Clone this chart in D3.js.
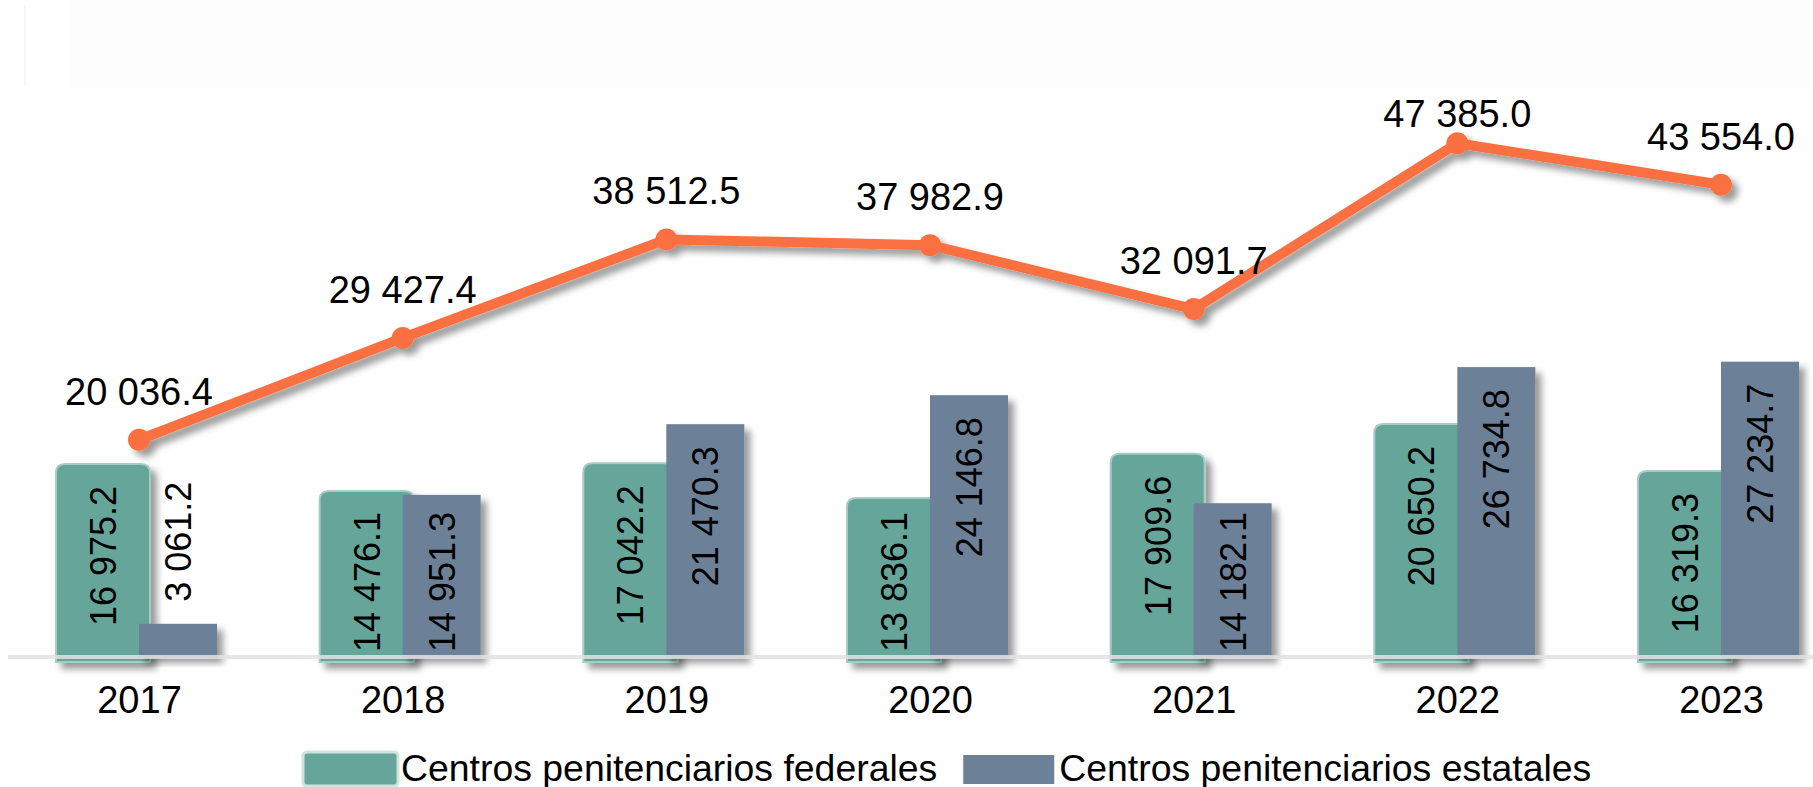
<!DOCTYPE html>
<html>
<head>
<meta charset="utf-8">
<script src="https://cdn.jsdelivr.net/npm/d3@7"></script>
<style>
  body { margin: 0; background: #fff; }
  svg { display: block; font-family: "Liberation Sans", Arial, sans-serif; }
</style>
</head>
<body>
<div id="chart"></div>
<script>
(function() {
  var width = 1813
  var height = 787

  // data
  var years = ['2017', '2018', '2019', '2020', '2021', '2022', '2023']
  var federales = [16975.2, 14476.1, 17042.2, 13836.1, 17909.6, 20650.2, 16319.3]
  var estatales = [3061.2, 14951.3, 21470.3, 24146.8, 14182.1, 26734.8, 27234.7]
  var total = [20036.4, 29427.4, 38512.5, 37982.9, 32091.7, 47385.0, 43554.0]
  var seriesNames = ['Centros penitenciarios federales', 'Centros penitenciarios estatales']

  var colorFed = '#66a69a'
  var colorEst = '#6c8197'
  var colorLine = '#fa7041'

  var baseline = 657
  var xPositionScale = d3.scalePoint().domain(years).range([139, 1721])
  var yPositionScale = d3.scaleLinear().domain([0, 50000]).range([baseline, baseline - 50000 * 0.010843])

  var fmt = function(v) {
    return d3.format(',.1f')(v).replace(/,/g, ' ')
  }

  var svg = d3.select('#chart')
    .append('svg')
    .attr('width', width)
    .attr('height', height)

  var defs = svg.append('defs')
  var shadow = defs.append('filter')
    .attr('id', 'shadow')
    .attr('x', '-20%').attr('y', '-20%')
    .attr('width', '150%').attr('height', '150%')
  shadow.append('feDropShadow')
    .attr('dx', 6).attr('dy', 6)
    .attr('stdDeviation', 3.5)
    .attr('flood-color', '#000')
    .attr('flood-opacity', 0.4)

  // faint title block at the top
  svg.append('rect')
    .attr('x', 70).attr('y', 0)
    .attr('width', width - 70).attr('height', 88)
    .attr('fill', '#fdfdfd')
  svg.append('line')
    .attr('x1', 25).attr('x2', 25).attr('y1', 5).attr('y2', 85)
    .attr('stroke', '#f6f6f6').attr('stroke-width', 2)

  var rows = years.map(function(y, i) {
    return { year: y, fed: federales[i], est: estatales[i], total: total[i] }
  })

  // federal bars (rounded top, slightly taller, drawn first)
  var fedBars = svg.append('g').attr('class', 'bars-fed')
  rows.forEach(function(d) {
    var x0 = xPositionScale(d.year) - 83
    var x1 = xPositionScale(d.year) + 11
    var top = yPositionScale(d.fed) - 9
    var bottom = baseline + 5
    var r = 9
    var path = 'M' + x0 + ',' + bottom +
      'V' + (top + r) +
      'Q' + x0 + ',' + top + ' ' + (x0 + r) + ',' + top +
      'H' + (x1 - r) +
      'Q' + x1 + ',' + top + ' ' + x1 + ',' + (top + r) +
      'V' + bottom + 'Z'
    fedBars.append('path')
      .attr('d', path)
      .attr('fill', colorFed)
      .attr('stroke', '#a6ccc4')
      .attr('stroke-width', 2)
      .attr('filter', 'url(#shadow)')
  })

  svg.append('g')
    .attr('class', 'bars-est')
    .selectAll('rect')
    .data(rows)
    .enter().append('rect')
    .attr('x', d => xPositionScale(d.year))
    .attr('y', d => yPositionScale(d.est))
    .attr('width', 78)
    .attr('height', d => baseline - yPositionScale(d.est))
    .attr('fill', colorEst)
    .attr('filter', 'url(#shadow)')

  // axis line
  svg.append('line')
    .attr('x1', 8).attr('x2', width)
    .attr('y1', baseline).attr('y2', baseline)
    .attr('stroke', '#e2e2e2')
    .attr('stroke-opacity', 0.85)
    .attr('stroke-width', 4)

  // bar labels, rotated
  function barLabel(cx, top, value) {
    var t = svg.append('text')
      .attr('text-anchor', 'end')
      .attr('dy', '0.36em')
      .attr('font-size', 36)
      .attr('fill', '#000')
      .text(fmt(value))
    var len = t.node().getComputedTextLength()
    var h = baseline - top
    var y
    if (h > len + 8) {
      y = Math.min(top + 22, baseline - 5 - len)
    } else {
      y = top - 22 - len
    }
    t.attr('transform', 'translate(' + cx + ',' + y + ') rotate(-90)')
  }
  rows.forEach(function(d) {
    barLabel(xPositionScale(d.year) - 36, yPositionScale(d.fed) - 9, d.fed)
    barLabel(xPositionScale(d.year) + 39, yPositionScale(d.est), d.est)
  })

  // total line
  var line = d3.line()
    .x(d => xPositionScale(d.year))
    .y(d => yPositionScale(d.total))

  var lineGroup = svg.append('g').attr('filter', 'url(#shadow)')
  lineGroup.append('path')
    .datum(rows)
    .attr('d', line)
    .attr('fill', 'none')
    .attr('stroke', colorLine)
    .attr('stroke-width', 10)
    .attr('stroke-linejoin', 'round')
  lineGroup.selectAll('circle')
    .data(rows)
    .enter().append('circle')
    .attr('cx', d => xPositionScale(d.year))
    .attr('cy', d => yPositionScale(d.total))
    .attr('r', 11)
    .attr('fill', colorLine)

  svg.append('g')
    .selectAll('text')
    .data(rows)
    .enter().append('text')
    .attr('x', d => xPositionScale(d.year))
    .attr('y', d => Math.max(yPositionScale(d.total) - 35, 127))
    .attr('text-anchor', 'middle')
    .attr('font-size', 38)
    .attr('fill', '#000')
    .text(d => fmt(d.total))

  // year labels
  var xAxis = d3.axisBottom(xPositionScale).tickSize(0).tickPadding(0)
  var axisG = svg.append('g')
    .attr('class', 'axis axis-x')
    .attr('transform', 'translate(0,' + 713 + ')')
    .call(xAxis)
  axisG.select('.domain').remove()
  axisG.selectAll('text')
    .attr('dy', 0)
    .attr('font-size', 38)
    .attr('font-family', '"Liberation Sans", Arial, sans-serif')
    .attr('fill', '#000')

  // legend
  var legend = svg.append('g').attr('class', 'legend')
  var lx = 303
  seriesNames.forEach(function(name, i) {
    legend.append('rect')
      .attr('x', lx + (i === 0 ? 0 : 2)).attr('y', i === 0 ? 752 : 755)
      .attr('width', i === 0 ? 95 : 91).attr('height', i === 0 ? 34 : 29)
      .attr('rx', i === 0 ? 4 : 0)
      .attr('fill', i === 0 ? colorFed : colorEst)
      .attr('stroke', i === 0 ? '#cfe3de' : 'none')
      .attr('stroke-width', 3)
    var t = legend.append('text')
      .attr('x', lx + 98)
      .attr('y', 781)
      .attr('font-size', 37.4)
      .attr('fill', '#000')
      .text(name)
    lx = lx + 98 + t.node().getComputedTextLength() + 24
  })
})()
</script>
</body>
</html>
